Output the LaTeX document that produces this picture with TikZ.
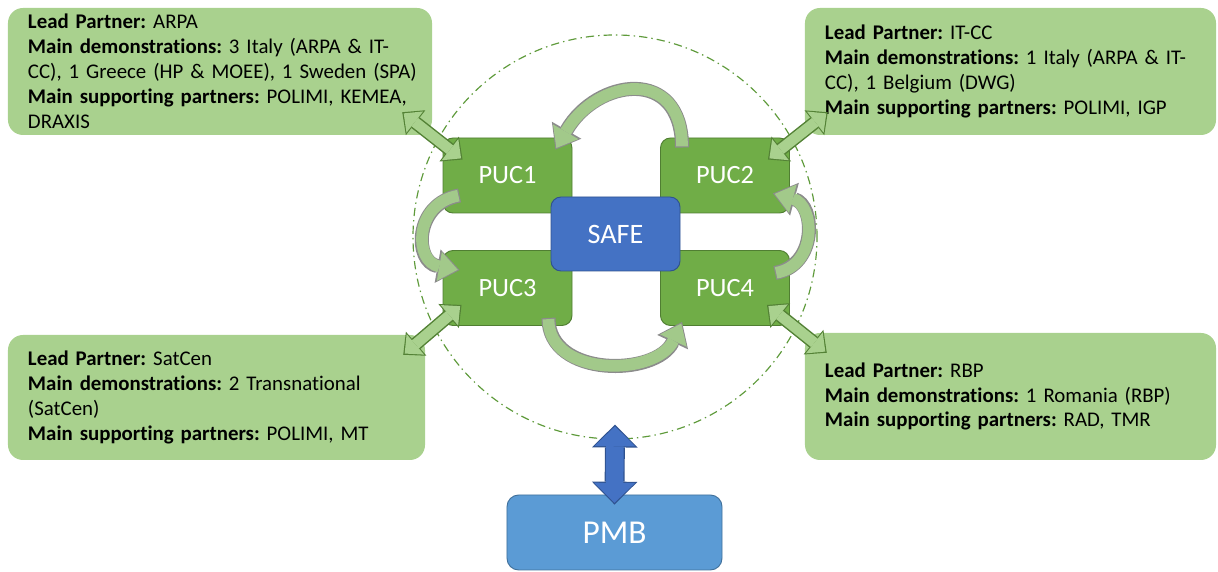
\documentclass[tikz,border=0pt]{standalone}
\usepackage{fontspec}
\setmainfont{Carlito}[Ligatures=NoCommon]
\usetikzlibrary{arrows.meta,calc}
\definecolor{boxgreen}{HTML}{A9D18E}
\definecolor{pucgreen}{HTML}{70AD47}
\definecolor{pucline}{HTML}{507E32}
\definecolor{linkline}{HTML}{538135}
\definecolor{safeblue}{HTML}{4472C4}
\definecolor{safeline}{HTML}{2F528F}
\definecolor{pmbblue}{HTML}{5B9BD5}
\definecolor{pmbline}{HTML}{41719C}
\definecolor{loopfill}{HTML}{A2C98A}
\definecolor{loopline}{HTML}{8C8C8C}
\definecolor{ringgreen}{HTML}{5E9A3A}
\tikzstyle{partner}=[rectangle,rounded corners=0.45cm,fill=boxgreen,text=black,inner xsep=0.6cm,align=left,font=\fontsize{17.8}{21.3}\selectfont\frenchspacing]
\tikzstyle{puc}=[rectangle,rounded corners=0.3cm,draw=pucline,thick,fill=pucgreen,text=white,minimum width=3.87cm,minimum height=2.25cm,font=\fontsize{22.5}{26}\selectfont]
\tikzstyle{hub}=[rectangle,rounded corners=0.3cm,draw=safeline,thick,fill=safeblue,text=white,minimum width=3.87cm,minimum height=2.22cm,font=\fontsize{24}{28}\selectfont]
\tikzstyle{board}=[rectangle,rounded corners=0.35cm,draw=pmbline,thick,fill=pmbblue,text=white,minimum width=6.45cm,minimum height=2.25cm,font=\fontsize{28.5}{32}\selectfont]
\tikzstyle{link}=[draw=boxgreen,line width=9pt,shorten <=1.6pt,shorten >=1.6pt,{Triangle[width=23pt,length=12pt,line width=0pt]}-{Triangle[width=23pt,length=12pt,line width=0pt]},
  preaction={draw=linkline,line width=11.5pt,shorten <=0pt,shorten >=0pt,{Triangle[width=27pt,length=14.5pt,line width=0pt]}-{Triangle[width=27pt,length=14.5pt,line width=0pt]}}]
\tikzstyle{loop}=[draw=loopfill,line width=10pt,shorten <=1pt,shorten >=1.5pt,-{Triangle[width=25pt,length=16pt,line width=0pt]},
  preaction={draw=loopline,line width=12pt,shorten <=0pt,shorten >=0pt,-{Triangle[width=29pt,length=19pt,line width=0pt]}}]
\tikzstyle{pmblink}=[draw=safeblue,line width=15pt,shorten <=1.5pt,shorten >=1.5pt,{Triangle[width=35pt,length=17pt,line width=0pt]}-{Triangle[width=35pt,length=17pt,line width=0pt]},
  preaction={draw=safeline,line width=17pt,shorten <=0pt,shorten >=0pt,{Triangle[width=39pt,length=19.5pt,line width=0pt]}-{Triangle[width=39pt,length=19.5pt,line width=0pt]}}]

\begin{document}
\begin{tikzpicture}[x=0.03cm,y=0.03cm]
  \useasboundingbox (0,0) rectangle (1218,572);

  % partner boxes
  \node[partner,minimum width=12.72cm,minimum height=3.81cm,text width=11.52cm] (tl) at (220,500.5)
    {\textbf{Lead Partner:} ARPA\\\textbf{Main demonstrations:} 3 Italy (ARPA \& IT-\\\mbox{CC), 1 Greece (HP \& MOEE), 1 Sweden (SPA)}\\\textbf{Main supporting partners:} POLIMI, KEMEA,\\DRAXIS};
  \node[partner,minimum width=12.33cm,minimum height=3.81cm,text width=11.13cm] (tr) at (1010.5,500.5)
    {\textbf{Lead Partner:} IT-CC\\\textbf{Main demonstrations:} 1 Italy (ARPA \& IT-\\CC), 1 Belgium (DWG)\\\textbf{Main supporting partners:} POLIMI, IGP};
  \node[partner,minimum width=12.51cm,minimum height=3.75cm,text width=11.31cm] (bl) at (216.5,174.5)
    {\textbf{Lead Partner:} SatCen\\\textbf{Main demonstrations:} 2 Transnational\\(SatCen)\\\textbf{Main supporting partners:} POLIMI, MT};
  \node[partner,minimum width=12.33cm,minimum height=3.81cm,text width=11.13cm] (br) at (1010.5,175.5)
    {\textbf{Lead Partner:} RBP\\\textbf{Main demonstrations:} 1 Romania (RBP)\\\textbf{Main supporting partners:} RAD, TMR};

  % ring round the use cases
  \node[circle,draw=ringgreen,line width=1pt,inner sep=0pt,minimum size=12.12cm,dash pattern=on 7pt off 3.5pt on 1.2pt off 3.5pt] (ring) at (615,335) {};

  \node[puc] (puc1) at (507.5,396.5) {PUC1};
  \node[puc] (puc2) at (725,396.5) {PUC2};
  \node[puc] (puc3) at (507.5,284) {PUC3};
  \node[puc] (puc4) at (725,284) {PUC4};
  \node[hub] (safe) at (615.5,338) {SAFE};
  \node[board] (pmb) at (614.5,39.5) {PMB};

  % partner links
  \draw[link] ($(tl.south east)+(-30,23)$) -- ($(puc1.north west)+(20,-22)$);
  \draw[link] ($(tr.south west)+(23,23)$) -- ($(puc2.north east)+(-22,-22)$);
  \draw[link] ($(bl.north east)+(-22,-20)$) -- ($(puc3.south west)+(19,21)$);
  \draw[link] ($(br.north west)+(22,-20)$) -- ($(puc4.south east)+(-23,21)$);

  % loop between the use cases
  \draw[loop] ($(puc2.north west)+(22,-10)$) to[out=90,in=60,looseness=1.65] ($(puc1.north east)+(-17,-12)$);
  \draw[loop] ($(puc1.south west)+(17,18)$) to[out=190,in=170,looseness=1.6] ($(puc3.north west)+(17,-20)$);
  \draw[loop] ($(puc3.south east)+(-24,8)$) to[out=-90,in=-115,looseness=1.15] ($(puc4.south west)+(22,4)$);
  \draw[loop] ($(puc4.north east)+(-15,-23)$) to[out=10,in=-15,looseness=1.4] ($(puc2.south east)+(-17,20)$);

  \draw[pmblink] ($(ring.south)+(0,15)$) -- ($(pmb.north)+(0,-10)$);

\end{tikzpicture}
\end{document}
